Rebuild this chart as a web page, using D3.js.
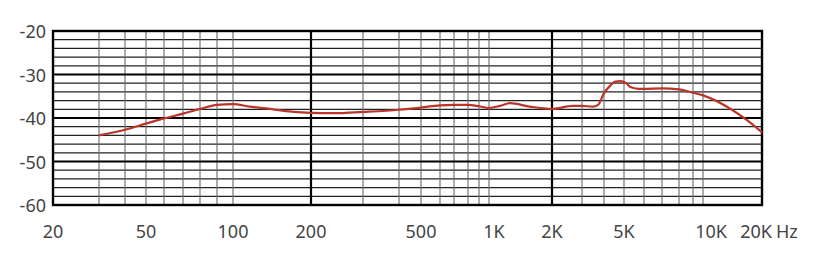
<!DOCTYPE html>
<html>
<head>
<meta charset="utf-8">
<script src="https://cdn.jsdelivr.net/npm/d3@7"></script>
<style>
  html, body { margin: 0; padding: 0; background: #fff; }
  svg { display: block; }
  text { font-family: "Noto Sans", "Open Sans", sans-serif; fill: #444; }
</style>
</head>
<body>
<svg id="chart" width="815" height="262"></svg>
<script>
// ---- data ----
const freqs = [30, 40, 50, 60, 70, 80, 90, 100, 116, 139, 160, 200, 240, 300, 400, 500, 600, 700, 800, 900,
  1000, 1130, 1260, 1570, 2000, 2650, 3000, 3450, 3700, 4000, 4300, 4500, 4800, 5100, 5300, 5700, 6000,
  7000, 8000, 9000, 10000, 13250, 16770, 20000];
const levels = [-44.0, -42.7, -41.3, -40.1, -39.0, -37.9, -37.0, -36.8, -37.4, -37.9, -38.4, -38.8, -38.9, -38.6, -38.1, -37.6, -37.1, -37.0, -37.0, -37.3,
  -37.7, -37.2, -36.6, -37.4, -37.9, -37.2, -37.2, -37.4, -37.0, -34.3, -32.5, -31.7, -31.5, -32.0, -32.9, -33.3, -33.3,
  -33.2, -33.4, -34.2, -34.8, -37.4, -40.5, -43.3];
const xTickValues = [20, 50, 100, 200, 500, 1000, 2000, 5000, 10000, 20000];
const xTickLabels = ["20", "50", "100", "200", "500", "1K", "2K", "5K", "10K", "20K"];
const yTickValues = [-20, -30, -40, -50, -60];
const yTickLabels = ["-20", "-30", "-40", "-50", "-60"];
const unitLabel = "Hz";

// ---- layout: the printed chart paper's (non-uniform) log grid ----
const gridFreqs = [20, 30, 40, 50, 60, 70, 80, 90, 100, 200, 300, 400, 500, 600, 700, 800, 900, 1000,
  2000, 3000, 4000, 5000, 6000, 7000, 8000, 9000, 10000, 20000];
const gridPx = [53, 99, 125, 146, 164, 183, 200, 217, 233, 311, 363, 399, 421, 440, 454, 468, 479, 489,
  552, 582, 604, 624, 644, 662, 679, 693, 703, 762];
const majorFreqs = [200, 2000];
const labelNudge = { 1000: 5, 10000: 8, 20000: -6 };

const paper = d3.scaleLinear().domain(gridFreqs.map(Math.log10)).range(gridPx);
const x = f => paper(Math.log10(f));
const y = d3.scaleLinear().domain([-60, -20]).range([205, 31]);

const svg = d3.select("#chart");
const x0 = x(20), x1 = x(20000), yTop = y(-20), yBot = y(-60);

// minor horizontal lines every 2 dB
const minorDb = d3.range(-58, -20, 2).filter(v => v % 10 !== 0);
svg.append("g").selectAll("line").data(minorDb).join("line")
  .attr("x1", x0).attr("x2", x1)
  .attr("y1", d => y(d)).attr("y2", d => y(d))
  .attr("stroke", "#222").attr("stroke-width", 1.2);

// minor vertical lines
const minorF = gridFreqs.filter(f => f !== 20 && f !== 20000 && !majorFreqs.includes(f));
svg.append("g").selectAll("line").data(minorF).join("line")
  .attr("x1", d => x(d)).attr("x2", d => x(d))
  .attr("y1", yTop).attr("y2", yBot)
  .attr("stroke", "#6a6a6a").attr("stroke-width", 1.1);

// major horizontal lines
svg.append("g").selectAll("line").data([-30, -40, -50]).join("line")
  .attr("x1", x0).attr("x2", x1)
  .attr("y1", d => y(d)).attr("y2", d => y(d))
  .attr("stroke", "#000").attr("stroke-width", 2.2);

// major vertical lines
svg.append("g").selectAll("line").data(majorFreqs).join("line")
  .attr("x1", d => x(d)).attr("x2", d => x(d))
  .attr("y1", yTop).attr("y2", yBot)
  .attr("stroke", "#000").attr("stroke-width", 2.2);

// border
svg.append("rect")
  .attr("x", x0).attr("y", yTop)
  .attr("width", x1 - x0).attr("height", yBot - yTop)
  .attr("fill", "none").attr("stroke", "#000").attr("stroke-width", 2.4);

// curve
const pts = freqs.map((f, i) => [f, levels[i]]);
const line = d3.line().x(d => x(d[0])).y(d => y(d[1])).curve(d3.curveMonotoneX);
svg.append("path").datum(pts)
  .attr("d", line)
  .attr("fill", "none")
  .attr("stroke", "#bb3429")
  .attr("stroke-width", 2.2)
  .attr("stroke-linejoin", "round");

// y labels
svg.append("g").selectAll("text").data(yTickValues).join("text")
  .attr("x", 46)
  .attr("y", d => y(d) + 7)
  .attr("text-anchor", "end")
  .attr("font-size", 18)
  .text((d, i) => yTickLabels[i]);

// x labels
svg.append("g").selectAll("text").data(xTickValues).join("text")
  .attr("x", d => x(d) + (labelNudge[d] || 0))
  .attr("y", 238)
  .attr("text-anchor", "middle")
  .attr("font-size", 18)
  .text((d, i) => xTickLabels[i]);

svg.append("text")
  .attr("x", x(20000) + 14)
  .attr("y", 238)
  .attr("text-anchor", "start")
  .attr("font-size", 18)
  .text(unitLabel);
</script>
</body>
</html>
